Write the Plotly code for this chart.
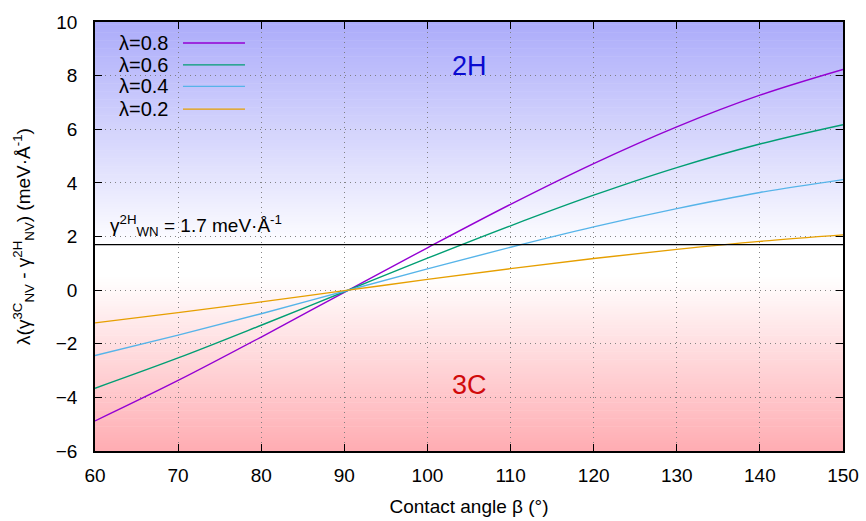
import numpy as np
import plotly.graph_objects as go

# Data
beta = [60, 70, 80, 90, 100, 110, 120, 130, 140, 150]
lam_08 = [-4.88, -3.37, -1.75, -0.08, 1.58, 3.20, 4.72, 6.09, 7.27, 8.23]
lam_06 = [-3.66, -2.53, -1.31, -0.06, 1.19, 2.40, 3.54, 4.57, 5.45, 6.17]
lam_04 = [-2.44, -1.68, -0.88, -0.04, 0.79, 1.60, 2.36, 3.04, 3.64, 4.12]
lam_02 = [-1.22, -0.84, -0.44, -0.02, 0.40, 0.80, 1.18, 1.52, 1.82, 2.06]
series_names = ["λ=0.8", "λ=0.6", "λ=0.4", "λ=0.2"]
series_colors = ["#9400d3", "#009e73", "#56b4e9", "#e69f00"]
gamma_wn = 1.7
x_range = [60, 150]
y_range = [-6, 10]

FONT = "Liberation Sans, Arial, Helvetica, sans-serif"

fig = go.Figure()

for name, vals, col in zip(series_names, [lam_08, lam_06, lam_04, lam_02], series_colors):
    fig.add_trace(go.Scatter(x=beta, y=vals, mode="lines", name=name, showlegend=False,
                             line=dict(color=col, width=1.4, shape="spline")))

fig.add_trace(go.Scatter(x=x_range, y=[gamma_wn, gamma_wn], mode="lines",
                         line=dict(color="black", width=1.2), showlegend=False,
                         hoverinfo="skip"))

# Background gradient (blue on top, white in the middle, pink at bottom)
def bg_color(y):
    top = np.array([172, 172, 250])
    bot = np.array([255, 172, 178])
    white = np.array([255, 255, 255])
    if y >= 1.5:
        t = (y - 1.5) / (10 - 1.5)
        c = white + (top - white) * t
    elif y <= 0.5:
        t = (0.5 - y) / (0.5 + 6)
        c = white + (bot - white) * t
    else:
        c = white
    return "rgb(%d,%d,%d)" % tuple(int(round(v)) for v in c)

shapes = []
edges = np.linspace(y_range[0], y_range[1], 161)
for y0, y1 in zip(edges[:-1], edges[1:]):
    shapes.append(dict(type="rect", xref="x", yref="y", x0=x_range[0], x1=x_range[1],
                       y0=y0, y1=y1 + 0.02, fillcolor=bg_color((y0 + y1) / 2),
                       line=dict(width=0), layer="below"))

annotations = [
    dict(x=105, y=8.35, xref="x", yref="y", text="2H", showarrow=False,
         font=dict(size=27, color="#0a0ad0", family=FONT)),
    dict(x=105, y=-3.55, xref="x", yref="y", text="3C", showarrow=False,
         font=dict(size=27, color="#d00a0a", family=FONT)),
    dict(x=61.6, y=2.4, xref="x", yref="y", xanchor="left",
         text="γ<sup>2H</sup><sub>WN</sub> = 1.7 meV·Å<sup>-1</sup>", showarrow=False,
         font=dict(size=19, color="black", family=FONT)),
]

# gnuplot-style key: text right-aligned, sample line to its right
key_rows = [0.951, 0.900, 0.850, 0.797]
for name, col, yp in zip(series_names, series_colors, key_rows):
    annotations.append(dict(x=0.1003, y=yp, xref="paper", yref="paper", xanchor="right",
                            yanchor="middle", text=name, showarrow=False,
                            font=dict(size=20, family=FONT, color="black")))
    shapes.append(dict(type="line", xref="paper", yref="paper", x0=0.1176, x1=0.2005,
                       y0=yp, y1=yp, line=dict(color=col, width=1.4), layer="above"))

axis_common = dict(showline=True, linecolor="black", linewidth=1.5, mirror="ticks",
                   ticks="inside", ticklen=7, tickcolor="black", tickwidth=1.2,
                   showgrid=True, gridcolor="rgba(120,120,120,0.9)", griddash="1px,4px",
                   gridwidth=1, zeroline=False,
                   tickfont=dict(size=19, family=FONT, color="black"))

fig.update_layout(
    width=866, height=521,
    margin=dict(l=95, r=23, t=19, b=70),
    plot_bgcolor="white", paper_bgcolor="white",
    font=dict(family=FONT, color="black"),
    shapes=shapes, annotations=annotations,
    xaxis=dict(range=x_range, dtick=10, ticklabelstandoff=6, automargin=False,
               title=dict(text="Contact angle β (°)", font=dict(size=19, family=FONT)),
               **axis_common),
    yaxis=dict(range=y_range, dtick=2, ticklabelstandoff=12, automargin=True,
               title=dict(text="λ(γ<sup>3C</sup><sub>NV</sub> - γ<sup>2H</sup><sub>NV</sub>) (meV·Å<sup>-1</sup>)",
                          font=dict(size=19, family=FONT), standoff=20), **axis_common),
    showlegend=False,
)

fig.write_html("out.html", config={"displayModeBar": False},
               post_script="document.body.style.margin='0';")
